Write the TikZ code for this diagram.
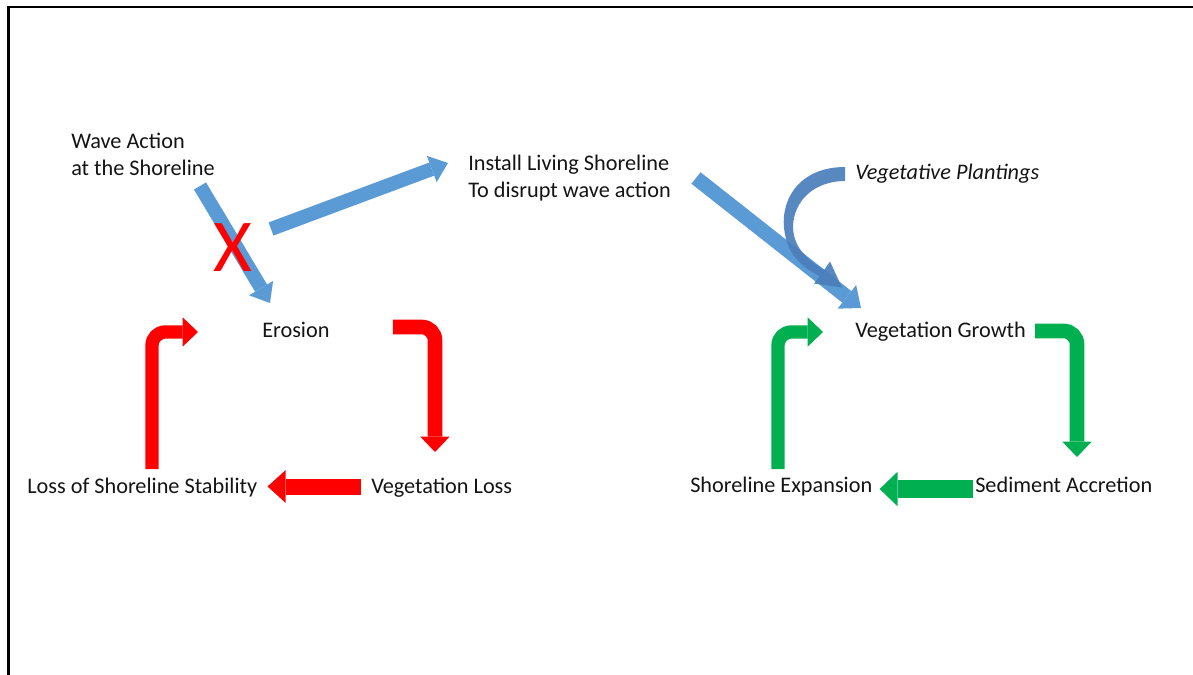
\documentclass[tikz,border=0pt]{standalone}
\usepackage{fontspec}
\setmainfont{Carlito}
\usepackage{tikz}
\usetikzlibrary{arrows.meta, calc}
\usepackage{xcolor}
\definecolor{ShoreBlue}{HTML}{5B9BD5}
\definecolor{PlantBlue}{HTML}{4A7EBB}
\definecolor{LossRed}{HTML}{FF0000}
\definecolor{GainGreen}{HTML}{00B050}
\definecolor{Ink}{HTML}{141414}

\begin{document}
\begin{tikzpicture}[
    x=0.75pt, y=-0.75pt,
    every node/.style={font=\fontsize{16.7pt}{20.25pt}\selectfont, Ink, inner sep=0pt, anchor=base west},
    wavearrow/.style={ShoreBlue, line width=10.5pt, -{Triangle[length=13pt, width=21pt, line width=0pt]}},
    bentarrow/.style={#1, line width=11pt, rounded corners=10pt, -{Triangle[length=11.5pt, width=22pt, line width=0pt]}},
    flatarrow/.style={#1, line width=12pt, -{Triangle[length=13.5pt, width=24.5pt, line width=0pt]}}
]
\useasboundingbox (0,0) rectangle (1193,675);

% frame (top and left edges only)
\draw[line width=1.9pt, black] (8.5,675) -- (8.5,7) -- (1193,7);

% === Labels ===
\node[align=left] (wave) at (71,175) {Wave Action\\at the Shoreline};
\node[align=left] (install) at (468,197) {Install Living Shoreline\\To disrupt wave action};
\node[font=\fontsize{16.7pt}{20.25pt}\selectfont\itshape] (plant) at (855,179.5) {Vegetative Plantings};

\node (erosion) at (262,337) {Erosion};
\node (vegloss) at (371,493) {Vegetation Loss};
\node (lossstab) at (27,493) {Loss of Shoreline Stability};

\node (veggrowth) at (855,337) {Vegetation Growth};
\node (sediment) at (975,492) {Sediment Accretion};
\node (shoreexp) at (690,492) {Shoreline Expansion};

% === Wave action, blocked ===
\draw[wavearrow] ($(wave.base west)+(129,11)$) -- ($(erosion.base west)+(8,-34)$);
\node[anchor=center, LossRed, font=\fontsize{56pt}{60pt}\selectfont] (cross) at (233,248) {X};
\draw[wavearrow] ($(cross)+(38,-19)$) -- ($(install.base west)+(-20,-34)$);
\draw[wavearrow, line width=11pt, -{Triangle[length=13.5pt, width=22.5pt, line width=0pt]}]
    ($(install.base west)+(228,-19)$) -- ($(veggrowth.base west)+(6,-29)$);

% Curved arrow from plantings
\begin{scope}[shift={(plant.base west)}]
\fill[PlantBlue, opacity=0.92]
    (-10,-12.5) .. controls (-52,-12.5) and (-74,15.5) .. (-71,48.5)
    .. controls (-68,76) and (-53,87) .. (-35.3,96.8)
    -- (-41,104) -- (-13,108) -- (-25,82) -- (-30.7,90.2)
    .. controls (-49,80.5) and (-62,66.5) .. (-62,46.5)
    .. controls (-61,20.5) and (-40,1.5) .. (-10,1.5) -- cycle;
\end{scope}

% === Erosion cycle (red) ===
\draw[bentarrow=LossRed] ($(erosion.base east)+(63,-10)$) -| ($(vegloss.base west)+(64,-41)$);
\draw[flatarrow=LossRed] ($(vegloss.base west)+(-10,-6.5)$) -- ($(lossstab.base east)+(10,-6.5)$);
\draw[bentarrow=LossRed, line width=10pt] ($(lossstab.base west)+(125,-24)$) |- ($(erosion.base west)+(-64,-5)$);

% === Growth cycle (green) ===
\draw[bentarrow=GainGreen] ($(veggrowth.base east)+(9,-6)$) -| ($(sediment.base west)+(102,-35)$);
\draw[flatarrow=GainGreen, line width=13.5pt, -{Triangle[length=13.5pt, width=26pt, line width=0pt]}]
    ($(sediment.base west)+(-2,-3)$) -- ($(shoreexp.base east)+(7,-3)$);
\draw[bentarrow=GainGreen, line width=10pt] ($(shoreexp.base west)+(88,-23)$) |- ($(veggrowth.base west)+(-32,-5)$);

\end{tikzpicture}
\end{document}
